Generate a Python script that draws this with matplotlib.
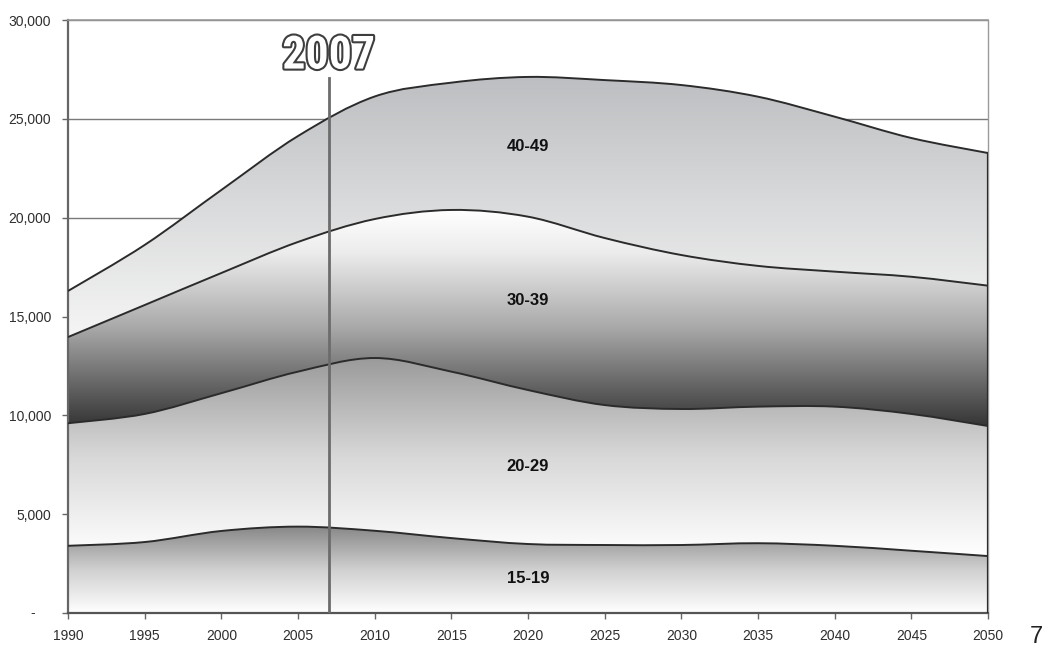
import numpy as np
import matplotlib
matplotlib.use("Agg")
import matplotlib.pyplot as plt
from matplotlib.path import Path
from matplotlib.patches import PathPatch
from matplotlib.colors import LinearSegmentedColormap
import matplotlib.patheffects as pe
from matplotlib.ticker import FixedLocator, FuncFormatter
from matplotlib import font_manager

plt.rcParams['font.family'] = ['Liberation Sans', 'DejaVu Sans']

# ---- data -------------------------------------------------------------
years = [1990, 1995, 2000, 2005, 2010, 2015, 2020, 2025, 2030, 2035, 2040, 2045, 2050]
age_15_19 = [3400, 3590, 4150, 4370, 4160, 3790, 3490, 3440, 3440, 3530, 3400, 3150, 2880]
age_20_29 = [6200, 6480, 6970, 7840, 8740, 8420, 7790, 7080, 6880, 6910, 7040, 6920, 6580]
age_30_39 = [4360, 5510, 6080, 6560, 7030, 8180, 8770, 8450, 7790, 7120, 6830, 6940, 7100]
age_40_49 = [2330, 3040, 4200, 5360, 6200, 6440, 7070, 7990, 8600, 8560, 7840, 7020, 6710]
group_names = ["15-19", "20-29", "30-39", "40-49"]
y_ticks = [0, 5000, 10000, 15000, 20000, 25000, 30000]
x_ticks = years
marker_year = 2007

# pick the narrowest bold face available for the year marker
installed = {f.name for f in font_manager.fontManager.ttflist}
narrow_families = [n for n in ("Liberation Sans Narrow", "DejaVu Sans Condensed",
                               "Roboto Condensed", "Open Sans Condensed")
                   if n in installed]
marker_family = narrow_families + ["DejaVu Sans"]

# ---- figure -----------------------------------------------------------
fig = plt.figure(figsize=(10.49, 6.5), dpi=100)
ax = fig.add_axes([68 / 1049, 37 / 650, 920 / 1049, 593 / 650])

x = np.array(years, dtype=float)
stack = np.cumsum(np.vstack([age_15_19, age_20_29, age_30_39, age_40_49]), axis=0).astype(float)
bottoms = np.vstack([np.zeros_like(x), stack[:-1]])


def smooth_curve(xs, ys):
    """Catmull-Rom spline through the points, as cubic Bezier vertices."""
    pts = np.column_stack([xs, ys])
    n = len(pts)
    verts = [pts[0]]
    for i in range(n - 1):
        p0 = pts[max(i - 1, 0)]
        p1 = pts[i]
        p2 = pts[i + 1]
        p3 = pts[min(i + 2, n - 1)]
        verts += [p1 + (p2 - p0) / 6.0, p2 - (p3 - p1) / 6.0, p2]
    return verts


def band_path(top, bot):
    up = smooth_curve(x, top)
    lo = smooth_curve(x[::-1], bot[::-1])
    verts = up + lo + [up[0]]
    codes = ([Path.MOVETO] + [Path.CURVE4] * (len(up) - 1) + [Path.LINETO]
             + [Path.CURVE4] * (len(lo) - 1) + [Path.CLOSEPOLY])
    return Path(verts, codes)


def line_path(vals):
    v = smooth_curve(x, vals)
    return Path(v, [Path.MOVETO] + [Path.CURVE4] * (len(v) - 1))


# vertical gradients for each band (bottom colour -> top colour)
band_cmaps = [
    LinearSegmentedColormap.from_list("g1", ["#ffffff", "#d0d0d0", "#878787"]),
    LinearSegmentedColormap.from_list("g2", ["#ffffff", "#d8d8d8", "#9a9a9a"]),
    LinearSegmentedColormap.from_list("g3", [(0.0, "#353535"), (0.45, "#a8a8a8"),
                                             (0.8, "#ececec"), (1.0, "#ffffff")]),
    LinearSegmentedColormap.from_list("g4", ["#f5f5f5", "#dadbdc", "#bcbec1"]),
]

grad = np.linspace(0, 1, 256).reshape(-1, 1)
for i in range(4):
    top, bot = stack[i], bottoms[i]
    clip = PathPatch(band_path(top, bot), transform=ax.transData,
                     facecolor="none", edgecolor="none")
    im = ax.imshow(grad, extent=(x[0], x[-1], bot.min(), top.max()),
                   origin="lower", aspect="auto", cmap=band_cmaps[i],
                   interpolation="bilinear", zorder=1)
    im.set_clip_path(clip)
    ax.add_patch(PathPatch(line_path(top), facecolor="none",
                           edgecolor="#2b2b2b", lw=1.4, zorder=3))

# right edge of the stacked areas
ax.plot([x[-1], x[-1]], [0, stack[-1][-1]], color="#2b2b2b", lw=1.6, zorder=3)

# marker line for the current year
ax.axvline(marker_year, ymin=0, ymax=0.902, color="#6c6c6c", lw=2, zorder=4)
ax.text(marker_year, 28200, str(marker_year), ha="center", va="center",
        fontsize=33, family=marker_family, fontstretch="condensed",
        weight="bold", color="white",
        path_effects=[pe.withStroke(linewidth=3, foreground="#3e3e3e")],
        zorder=5)

# band labels
label_pos = [(2020, 1770), (2020, 7390), (2020, 15790), (2020, 23580)]
for name, (lx, ly) in zip(group_names, label_pos):
    ax.text(lx, ly, name, ha="center", va="center", fontsize=12,
            weight="bold", color="#111111", zorder=5)

# ---- axes styling ------------------------------------------------------
ax.set_xlim(x[0], x[-1])
ax.set_ylim(0, 30000)
ax.xaxis.set_major_locator(FixedLocator(x_ticks))
ax.yaxis.set_major_locator(FixedLocator(y_ticks))
ax.xaxis.set_major_formatter(FuncFormatter(lambda v, p: f"{int(v)}"))
ax.yaxis.set_major_formatter(FuncFormatter(lambda v, p: "" if v == 0 else f"{int(v):,}"))
ax.text(-0.038, 0, "-", transform=ax.get_yaxis_transform(), ha="center",
        va="center", fontsize=10, color="#333333")

ax.tick_params(axis="both", direction="out", length=4, width=1,
               color="#666666", labelsize=10, labelcolor="#2e2e2e")
ax.tick_params(axis="y", pad=8)
ax.tick_params(axis="x", pad=7.5)

ax.yaxis.grid(True, color="#7a7a7a", lw=1)
ax.set_axisbelow(True)

ax.spines["top"].set_color("#9a9a9a")
ax.spines["top"].set_linewidth(1.2)
ax.spines["right"].set_color("#9a9a9a")
ax.spines["right"].set_linewidth(1)
ax.spines["left"].set_color("#666666")
ax.spines["left"].set_linewidth(1.6)
ax.spines["bottom"].set_color("#555555")
ax.spines["bottom"].set_linewidth(1.6)

fig.text(1036 / 1049, 1 - 637 / 650, "7", ha="center", va="center",
         fontsize=17, color="#222222")

fig.savefig("out.png", dpi=100)
